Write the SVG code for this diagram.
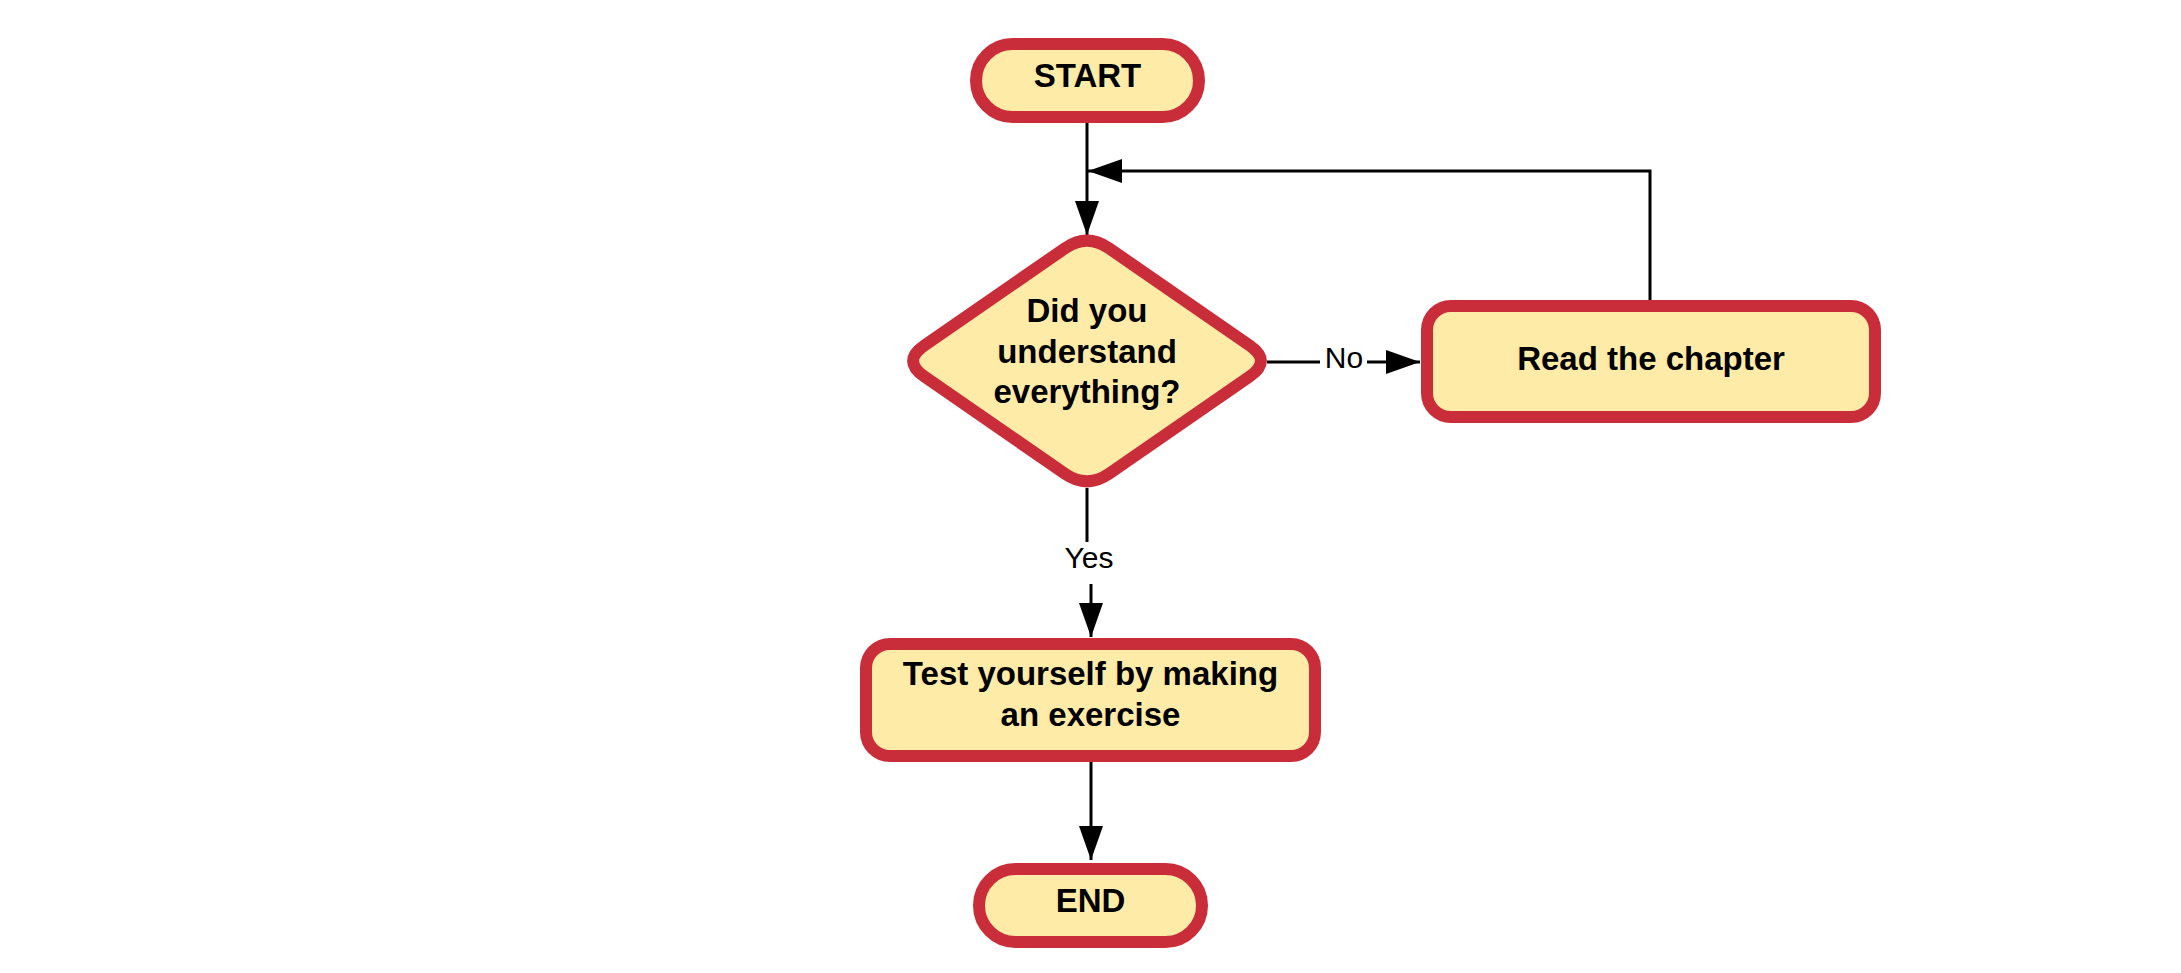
<svg xmlns="http://www.w3.org/2000/svg" width="2181" height="973" viewBox="0 0 2181 973">
<style>
.shape{fill:#FFEBA8;stroke:#C92D39;stroke-width:12}
.t{font-family:"Liberation Sans",Arial,sans-serif;font-weight:bold;font-size:33px;fill:#000;text-anchor:middle}
.lbl{font-family:"Liberation Sans",Arial,sans-serif;font-size:30px;fill:#000;text-anchor:middle}
.c{fill:none;stroke:#000;stroke-width:3}
</style>
<defs>
<marker id="ah" markerUnits="userSpaceOnUse" markerWidth="34" markerHeight="24" refX="34" refY="12" orient="auto">
<path d="M0,0 L34,12 L0,24 Z" fill="#000"/>
</marker>
</defs>
<rect width="2181" height="973" fill="#fff"/>
<g id="connectors">
<path class="c" d="M1087 123 V235" marker-end="url(#ah)"/>
<path class="c" d="M1650 300 V171 H1088" marker-end="url(#ah)"/>
<path class="c" d="M1267 362 H1320"/>
<path class="c" d="M1367 362 H1420" marker-end="url(#ah)"/>
<text class="lbl" x="1344" y="368">No</text>
<path class="c" d="M1087 488 V542"/>
<path class="c" d="M1091 584 V637" marker-end="url(#ah)"/>
<text class="lbl" x="1089" y="568">Yes</text>
<path class="c" d="M1091 762 V860" marker-end="url(#ah)"/>
</g>
<g id="start">
<rect class="shape" x="976" y="44" width="223" height="73" rx="36.5"/>
<text class="t" x="1087.5" y="87">START</text>
</g>
<g id="decision">
<path class="shape" d="M1109.2 248.4 L1249.8 345.6 Q1272 361 1249.8 376.4 L1109.2 473.6 Q1087 489 1064.8 473.6 L924.2 376.4 Q902 361 924.2 345.6 L1064.8 248.4 Q1087 233 1109.2 248.4 Z"/>
<text class="t" x="1087" y="322">Did you</text>
<text class="t" x="1087" y="363">understand</text>
<text class="t" x="1087" y="403">everything?</text>
</g>
<g id="read">
<rect class="shape" x="1427" y="306" width="448" height="111" rx="24"/>
<text class="t" x="1651" y="370">Read the chapter</text>
</g>
<g id="test">
<rect class="shape" x="866" y="644" width="449" height="112" rx="24"/>
<text class="t" x="1090.5" y="685">Test yourself by making</text>
<text class="t" x="1090.5" y="726">an exercise</text>
</g>
<g id="end">
<rect class="shape" x="979" y="869" width="223" height="73" rx="36.5"/>
<text class="t" x="1090.5" y="912">END</text>
</g>
</svg>
